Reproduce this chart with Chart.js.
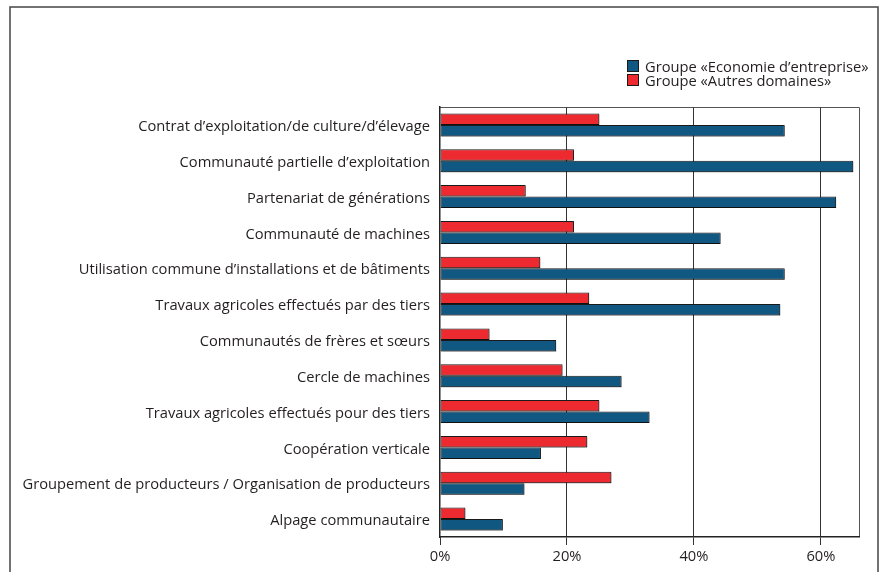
<!DOCTYPE html>
<html>
<head>
<meta charset="utf-8">
<script src="https://cdn.jsdelivr.net/npm/chart.js@4/dist/chart.umd.min.js"></script>
<style>
  html, body { margin: 0; padding: 0; background: #fff; }
  #wrap { position: relative; width: 880px; height: 572px; }
  #legend {
    position: absolute; left: 627px; top: 59px;
    font-family: "Open Sans", "Noto Sans", sans-serif; font-size: 14.7px;
    color: #231f20; line-height: 14px;
  }
  #legend div { display: flex; align-items: center; white-space: nowrap; }
  #legend span.box {
    display: inline-block; width: 10px; height: 10px; margin-right: 6px;
    border: 1px solid #1a1a1a;
  }
</style>
</head>
<body>
<div id="wrap">
  <canvas id="coopChart" width="880" height="572"></canvas>
  <div id="legend"></div>
</div>
<script>
// Forms of cooperation, share of farms per group (%)
const categories = [
  "Contrat d’exploitation/de culture/d’élevage",
  "Communauté partielle d’exploitation",
  "Partenariat de générations",
  "Communauté de machines",
  "Utilisation commune d’installations et de bâtiments",
  "Travaux agricoles effectués par des tiers",
  "Communautés de frères et sœurs",
  "Cercle de machines",
  "Travaux agricoles effectués pour des tiers",
  "Coopération verticale",
  "Groupement de producteurs / Organisation de producteurs",
  "Alpage communautaire"
];
const autresDomaines = [25.1, 21.1, 13.5, 21.1, 15.8, 23.5, 7.8, 19.3, 25.1, 23.2, 27.0, 4.0];
const economieEntreprise = [54.3, 65.1, 62.4, 44.2, 54.3, 53.6, 18.3, 28.6, 33.0, 15.9, 13.3, 9.9];
const xTicks = [0, 20, 40, 60];
const xMax = 66;

const seriesNames = ["Groupe «Autres domaines»", "Groupe «Economie d’entreprise»"];
const RED = "#ec2a30";
const BLUE = "#105781";
const INK = "#231f20";
const FONT = "'Open Sans', 'Noto Sans', sans-serif";

// outer frame + box around the plot
const framePlugin = {
  id: "frame",
  beforeDraw(chart) {
    const ctx = chart.ctx;
    ctx.save();
    ctx.strokeStyle = "#444";
    ctx.lineWidth = 1.5;
    ctx.beginPath();
    ctx.moveTo(10, 572);
    ctx.lineTo(10, 7);
    ctx.lineTo(878, 7);
    ctx.lineTo(878, 572);
    ctx.stroke();
    const a = chart.chartArea;
    ctx.strokeStyle = "#555";
    ctx.lineWidth = 1;
    ctx.beginPath();
    ctx.moveTo(a.left, a.top + 0.5);
    ctx.lineTo(a.right + 0.5, a.top + 0.5);
    ctx.lineTo(a.right + 0.5, a.bottom);
    ctx.stroke();
    ctx.restore();
  }
};

// faint drop shadow under the bars
const barShadow = {
  id: "barShadow",
  beforeDatasetsDraw(chart) {
    const ctx = chart.ctx;
    ctx.save();
    ctx.shadowColor = "rgba(0,0,0,0.35)";
    ctx.shadowOffsetX = 1;
    ctx.shadowOffsetY = 1;
    ctx.shadowBlur = 0;
  },
  afterDatasetsDraw(chart) {
    chart.ctx.restore();
  }
};

const chart = new Chart(document.getElementById("coopChart"), {
  type: "bar",
  data: {
    labels: categories,
    datasets: [
      {
        label: seriesNames[0],
        data: autresDomaines,
        backgroundColor: RED,
        borderColor: "#1a1a1a",
        borderWidth: 1,
        borderSkipped: false
      },
      {
        label: seriesNames[1],
        data: economieEntreprise,
        backgroundColor: BLUE,
        borderColor: "#1a1a1a",
        borderWidth: 1,
        borderSkipped: false
      }
    ]
  },
  options: {
    indexAxis: "y",
    responsive: false,
    animation: false,
    datasets: {
      bar: { barPercentage: 1, categoryPercentage: 0.64 }
    },
    layout: { padding: { top: 107, right: 21, left: 0, bottom: 0 } },
    plugins: {
      legend: { display: false },
      tooltip: { enabled: false }
    },
    scales: {
      x: {
        min: 0,
        max: xMax,
        afterBuildTicks(scale) {
          scale.ticks = xTicks.map((v) => ({ value: v }));
        },
        afterFit(scale) { scale.height = 35; },
        ticks: {
          callback: (v) => v + "%",
          color: INK,
          font: { family: FONT, size: 14.7 },
          padding: 3
        },
        grid: {
          color: (c) => (c.tick && c.tick.value === 0 ? "rgba(0,0,0,0)" : "#333"),
          lineWidth: 1,
          borderDash: [3, 2],
          tickLength: 8,
          tickColor: "#333",
          tickBorderDash: []
        },
        border: { display: true, color: "#222", width: 1.5 }
      },
      y: {
        afterFit(scale) { scale.width = 440; },
        ticks: {
          color: INK,
          font: { family: FONT, size: 14.7 },
          padding: 10,
          labelOffset: 2
        },
        grid: { display: false, drawTicks: false },
        border: { display: true, color: "#222", width: 1.5 }
      }
    }
  },
  plugins: [framePlugin, barShadow]
});

// legend: economy group listed first, as in the print layout
const legendEl = document.getElementById("legend");
chart.data.datasets.slice().reverse().forEach((ds) => {
  const row = document.createElement("div");
  const box = document.createElement("span");
  box.className = "box";
  box.style.background = ds.backgroundColor;
  row.appendChild(box);
  row.appendChild(document.createTextNode(ds.label));
  legendEl.appendChild(row);
});
</script>
</body>
</html>
